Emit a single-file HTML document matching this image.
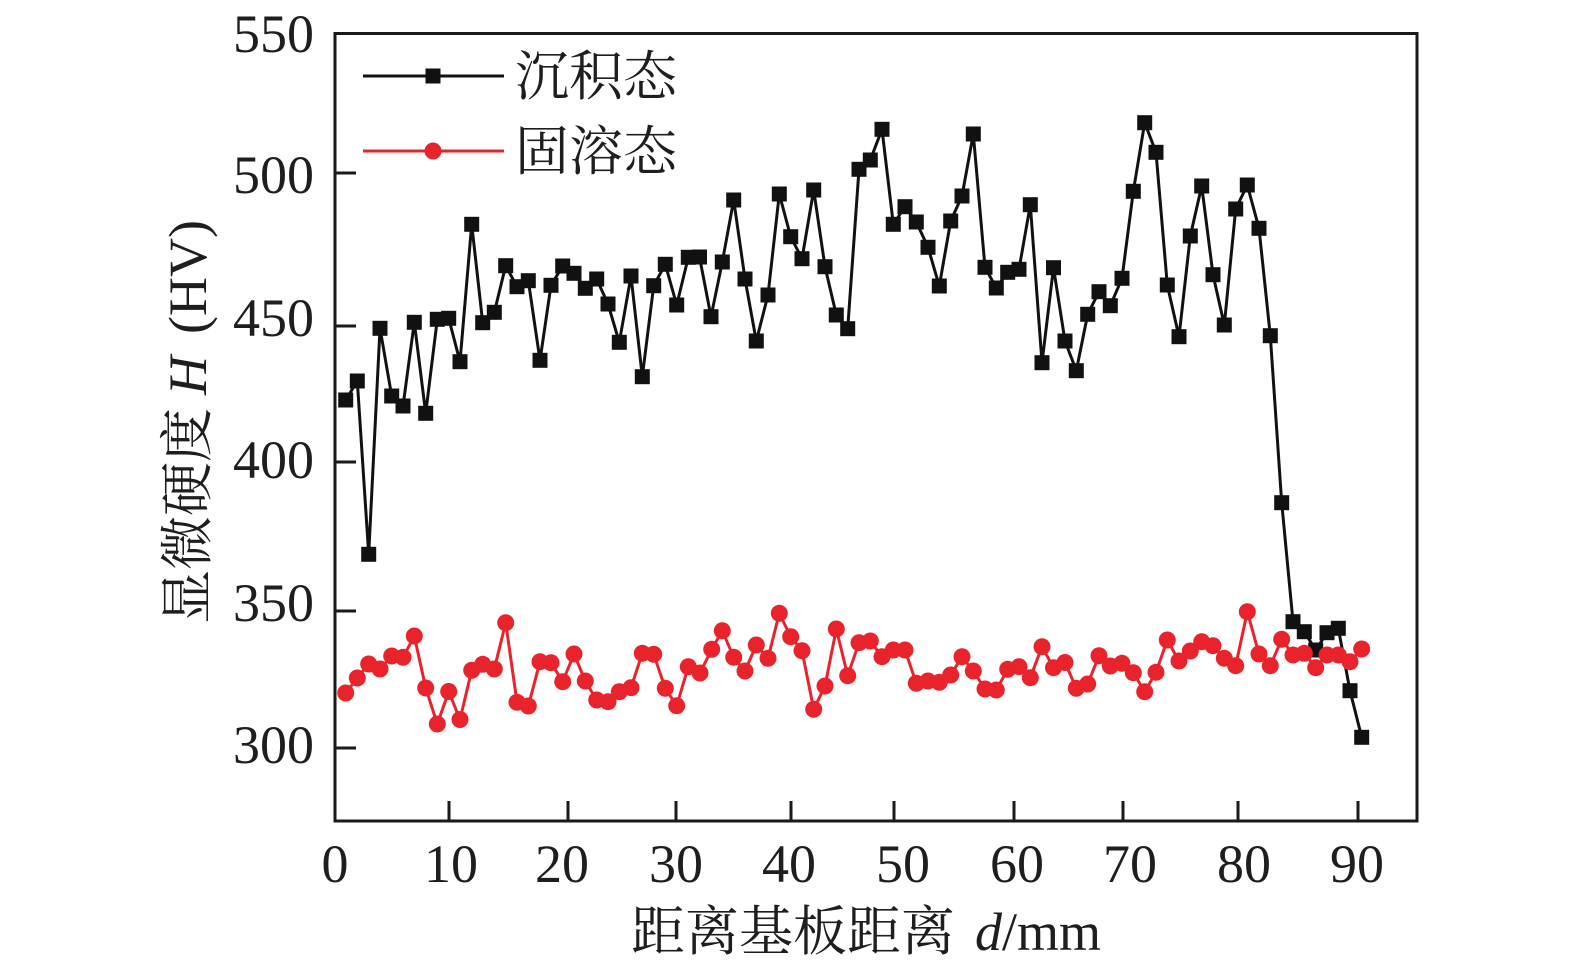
<!DOCTYPE html>
<html>
<head>
<meta charset="utf-8">
<style>
html,body{margin:0;padding:0;background:#fff;}
svg{display:block;}
text{fill:#1e1e1e;}
</style>
</head>
<body>
<svg width="1575" height="972" viewBox="0 0 1575 972" xmlns="http://www.w3.org/2000/svg">
<rect x="0" y="0" width="1575" height="972" fill="#fff"/>

<!-- ticks -->
<g stroke="#1a1a1a" stroke-width="3">
<line x1="449" y1="821" x2="449" y2="801"/>
<line x1="568" y1="821" x2="568" y2="801"/>
<line x1="676" y1="821" x2="676" y2="801"/>
<line x1="791" y1="821" x2="791" y2="801"/>
<line x1="894" y1="821" x2="894" y2="801"/>
<line x1="1014" y1="821" x2="1014" y2="801"/>
<line x1="1123" y1="821" x2="1123" y2="801"/>
<line x1="1238" y1="821" x2="1238" y2="801"/>
<line x1="1358" y1="821" x2="1358" y2="801"/>
<line x1="335" y1="173" x2="356" y2="173"/>
<line x1="335" y1="326" x2="356" y2="326"/>
<line x1="335" y1="462" x2="356" y2="462"/>
<line x1="335" y1="611" x2="356" y2="611"/>
<line x1="335" y1="748" x2="356" y2="748"/>
</g>

<!-- black series -->
<polyline fill="none" stroke="#111" stroke-width="3" stroke-linejoin="miter" points="345.7,400 357.3,381 368.7,554.3 380,328.3 391.7,396 403,406 414.3,322.3 425.7,413.3 437.3,319.3 448.7,318.3 460,361.7 471.7,224.3 482.7,322.7 494.3,312.3 505.7,265.7 517,286.7 528.3,280.7 540,360.3 551,285.3 562.7,266 574,273.3 585.3,288.3 596.7,279 608,304 619.3,342.3 631,276 642.3,376.7 653.7,285.7 665.3,264.3 676.7,305 688.3,257.3 699.5,257 711,316.7 722.3,262 733.7,200 745,279 756.3,341 768,295 779.3,194 790.7,236.7 802,258.7 813.7,190 825,266.7 836.3,315 847.7,328.7 859,169.3 870.3,160 882,129.3 893.3,224.3 905,206.7 916.3,222 928,247.3 939.3,286 950.7,221 962,196 973.3,134 985,267.3 996.3,288 1007.7,272.3 1019,269.3 1030.3,204.7 1042,362.7 1053.5,267.7 1065,341 1076.3,370.7 1087.7,314.3 1099,291.7 1110.3,305.7 1122,278.3 1133.3,191.3 1144.7,122.7 1156,152.3 1167.3,285 1179,336.7 1190.3,236 1201.7,186 1213,274.7 1224.3,325 1235.7,209 1247.3,185 1259,228.3 1270.3,335.7 1281.7,502.7 1293,621.7 1304.3,631.7 1315.7,650 1327,632.7 1338.3,628.3 1350,690.7 1361.7,737.3"/>
<g id="sq" fill="#111">
</g>

<!-- red series -->
<polyline fill="none" stroke="#e8232b" stroke-width="3" points="345.7,693 357.3,678 368.7,664 380,669 391.7,656 403,657.3 414.3,636 425.7,688 437.3,724 448.7,691.5 460,719.5 471.7,670.3 482.7,664.3 494.3,669 505.7,622.7 517,702.3 528.3,706 540,661.7 551,662.7 562.7,681.7 574,654 585.3,681 596.7,700 608,701.7 619.3,691.7 631,687.7 642.3,653.3 653.7,654.3 665.3,688.3 676.7,705.7 688.3,666.7 700,673 711.7,649.3 722.3,630.7 733.7,657.3 745,671 756.3,645 768,658.3 779.3,613.3 790.7,636.7 802,650.7 813.7,709.3 825,686 836.3,629 847.7,675.7 859,642.7 870.3,641 882,656.7 893.3,650 905,650 916.3,683.3 928,681 939.3,682.3 950.7,675 962,656.7 973.3,671 985,689 996.3,690 1007.7,669.3 1019,666.7 1030.3,677.7 1042,646.7 1053.5,667.7 1065,662.5 1076.3,688.3 1087.7,684 1099,655.7 1110.3,666 1122,663.3 1133.3,672.7 1144.7,691.7 1156,672.3 1167.3,640 1179,661 1190.3,651 1201.7,641.7 1213,645.7 1224.3,658.3 1235.7,665.7 1247.3,611.7 1259,654 1270.3,665.7 1281.7,639.3 1293,655 1304.3,653.3 1315.7,667.7 1327,655 1338.3,655 1350,661.7 1361.7,649"/>
<g id="ci" fill="#e8232b"></g>

<!-- axes frame -->
<rect x="335" y="33.5" width="1082" height="787.5" fill="none" stroke="#1a1a1a" stroke-width="3"/>

<!-- y tick labels -->
<g font-family="'Liberation Serif', serif" font-size="54" text-anchor="end">
<text x="314" y="52">550</text>
<text x="314" y="193">500</text>
<text x="314" y="336">450</text>
<text x="314" y="478">400</text>
<text x="314" y="621">350</text>
<text x="314" y="763">300</text>
</g>
<!-- x tick labels -->
<g font-family="'Liberation Serif', serif" font-size="54" text-anchor="middle">
<text x="335" y="882">0</text>
<text x="451" y="882">10</text>
<text x="562" y="882">20</text>
<text x="676" y="882">30</text>
<text x="789" y="882">40</text>
<text x="903" y="882">50</text>
<text x="1017" y="882">60</text>
<text x="1130" y="882">70</text>
<text x="1244" y="882">80</text>
<text x="1357" y="882">90</text>
</g>

<!-- axis titles -->
<text x="631" y="950" font-family="'Liberation Serif', 'Noto Serif CJK SC', serif" font-size="54">距离基板距离<tspan x="975" font-style="italic">d</tspan>/mm</text>
<text transform="translate(206,624) rotate(-90)" font-family="'Liberation Serif', 'Noto Serif CJK SC', serif" font-size="54"><tspan x="0">显微硬度</tspan><tspan x="229" font-style="italic">H</tspan><tspan x="290">(HV)</tspan></text>

<!-- legend -->
<line x1="363" y1="76" x2="504" y2="76" stroke="#111" stroke-width="3"/>
<rect x="425.5" y="68.5" width="15" height="15" fill="#111"/>
<line x1="363" y1="151" x2="504" y2="151" stroke="#e8232b" stroke-width="3"/>
<circle cx="433" cy="151" r="8.5" fill="#e8232b"/>
<g font-family="'Liberation Serif', 'Noto Serif CJK SC', serif" font-size="54">
<text x="515" y="95">沉积态</text>
<text x="515" y="170">固溶态</text>
</g>

<script>
(function(){
var ns="http://www.w3.org/2000/svg";
var b=[[345.7,400],[357.3,381],[368.7,554.3],[380,328.3],[391.7,396],[403,406],[414.3,322.3],[425.7,413.3],[437.3,319.3],[448.7,318.3],[460,361.7],[471.7,224.3],[482.7,322.7],[494.3,312.3],[505.7,265.7],[517,286.7],[528.3,280.7],[540,360.3],[551,285.3],[562.7,266],[574,273.3],[585.3,288.3],[596.7,279],[608,304],[619.3,342.3],[631,276],[642.3,376.7],[653.7,285.7],[665.3,264.3],[676.7,305],[688.3,257.3],[699.5,257],[711,316.7],[722.3,262],[733.7,200],[745,279],[756.3,341],[768,295],[779.3,194],[790.7,236.7],[802,258.7],[813.7,190],[825,266.7],[836.3,315],[847.7,328.7],[859,169.3],[870.3,160],[882,129.3],[893.3,224.3],[905,206.7],[916.3,222],[928,247.3],[939.3,286],[950.7,221],[962,196],[973.3,134],[985,267.3],[996.3,288],[1007.7,272.3],[1019,269.3],[1030.3,204.7],[1042,362.7],[1053.5,267.7],[1065,341],[1076.3,370.7],[1087.7,314.3],[1099,291.7],[1110.3,305.7],[1122,278.3],[1133.3,191.3],[1144.7,122.7],[1156,152.3],[1167.3,285],[1179,336.7],[1190.3,236],[1201.7,186],[1213,274.7],[1224.3,325],[1235.7,209],[1247.3,185],[1259,228.3],[1270.3,335.7],[1281.7,502.7],[1293,621.7],[1304.3,631.7],[1315.7,650],[1327,632.7],[1338.3,628.3],[1350,690.7],[1361.7,737.3]];
var r=[[345.7,693],[357.3,678],[368.7,664],[380,669],[391.7,656],[403,657.3],[414.3,636],[425.7,688],[437.3,724],[448.7,691.5],[460,719.5],[471.7,670.3],[482.7,664.3],[494.3,669],[505.7,622.7],[517,702.3],[528.3,706],[540,661.7],[551,662.7],[562.7,681.7],[574,654],[585.3,681],[596.7,700],[608,701.7],[619.3,691.7],[631,687.7],[642.3,653.3],[653.7,654.3],[665.3,688.3],[676.7,705.7],[688.3,666.7],[700,673],[711.7,649.3],[722.3,630.7],[733.7,657.3],[745,671],[756.3,645],[768,658.3],[779.3,613.3],[790.7,636.7],[802,650.7],[813.7,709.3],[825,686],[836.3,629],[847.7,675.7],[859,642.7],[870.3,641],[882,656.7],[893.3,650],[905,650],[916.3,683.3],[928,681],[939.3,682.3],[950.7,675],[962,656.7],[973.3,671],[985,689],[996.3,690],[1007.7,669.3],[1019,666.7],[1030.3,677.7],[1042,646.7],[1053.5,667.7],[1065,662.5],[1076.3,688.3],[1087.7,684],[1099,655.7],[1110.3,666],[1122,663.3],[1133.3,672.7],[1144.7,691.7],[1156,672.3],[1167.3,640],[1179,661],[1190.3,651],[1201.7,641.7],[1213,645.7],[1224.3,658.3],[1235.7,665.7],[1247.3,611.7],[1259,654],[1270.3,665.7],[1281.7,639.3],[1293,655],[1304.3,653.3],[1315.7,667.7],[1327,655],[1338.3,655],[1350,661.7],[1361.7,649]];
var g=document.getElementById("sq");
b.forEach(function(p){var e=document.createElementNS(ns,"rect");e.setAttribute("x",p[0]-7.5);e.setAttribute("y",p[1]-7.5);e.setAttribute("width",15);e.setAttribute("height",15);g.appendChild(e);});
var c=document.getElementById("ci");
r.forEach(function(p){var e=document.createElementNS(ns,"circle");e.setAttribute("cx",p[0]);e.setAttribute("cy",p[1]);e.setAttribute("r",8.5);c.appendChild(e);});
})();
</script>
</svg>
</body>
</html>
